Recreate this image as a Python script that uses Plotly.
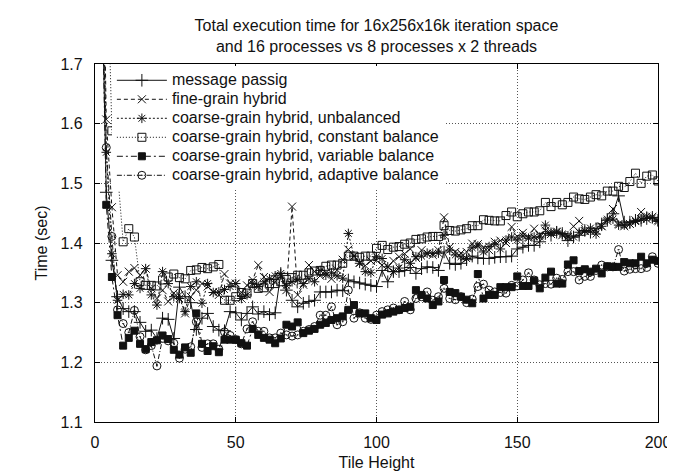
import plotly.graph_objects as go

tile_height = list(range(2, 201, 2))

message_passing = [
    1.95, 1.485, 1.371, 1.310, 1.290, 1.285, 1.285, 1.267, 1.252, 1.254,
    1.240, 1.274, 1.272, 1.240, 1.326, 1.310, 1.300, 1.255, 1.274, 1.282,
    1.260, 1.254, 1.253, 1.285, 1.283, 1.271, 1.282, 1.293, 1.281, 1.285,
    1.280, 1.283, 1.349, 1.321, 1.304, 1.293, 1.299, 1.302, 1.304, 1.318,
    1.318, 1.318, 1.321, 1.320, 1.338, 1.335, 1.333, 1.331, 1.329, 1.327,
    1.354, 1.335, 1.352, 1.352, 1.354, 1.359, 1.349, 1.357, 1.360, 1.359,
    1.354, 1.385, 1.366, 1.364, 1.366, 1.372, 1.378, 1.375, 1.374, 1.374,
    1.376, 1.377, 1.377, 1.378, 1.390, 1.393, 1.396, 1.396, 1.402, 1.416,
    1.413, 1.418, 1.416, 1.404, 1.410, 1.413, 1.421, 1.418, 1.424, 1.432,
    1.438, 1.449, 1.479, 1.435, 1.435, 1.438, 1.438, 1.441, 1.443, 1.438,
]

fine_grain = [
    2.20, 1.607, 1.460, 1.346, 1.335, 1.352, 1.358, 1.346, 1.357, 1.324,
    1.307, 1.321, 1.302, 1.316, 1.313, 1.282, 1.310, 1.321, 1.332, 1.327,
    1.318, 1.313, 1.348, 1.332, 1.332, 1.317, 1.329, 1.338, 1.363, 1.343,
    1.318, 1.335, 1.345, 1.321, 1.461, 1.313, 1.330, 1.363, 1.352, 1.345,
    1.350, 1.340, 1.355, 1.372, 1.389, 1.378, 1.367, 1.362, 1.370, 1.371,
    1.363, 1.360, 1.370, 1.377, 1.382, 1.390, 1.375, 1.388, 1.382, 1.380,
    1.388, 1.443, 1.393, 1.385, 1.383, 1.385, 1.399, 1.398, 1.393, 1.388,
    1.402, 1.404, 1.400, 1.427, 1.411, 1.417, 1.410, 1.424, 1.413, 1.421,
    1.415, 1.418, 1.413, 1.410, 1.428, 1.437, 1.420, 1.420, 1.421, 1.428,
    1.437, 1.457, 1.432, 1.428, 1.432, 1.438, 1.452, 1.440, 1.444, 1.438,
]

unbalanced = [
    2.10, 1.552, 1.382, 1.304, 1.314, 1.313, 1.332, 1.324, 1.357, 1.313,
    1.296, 1.352, 1.332, 1.310, 1.307, 1.285, 1.327, 1.335, 1.299, 1.332,
    1.317, 1.318, 1.322, 1.327, 1.332, 1.307, 1.313, 1.332, 1.327, 1.335,
    1.340, 1.345, 1.349, 1.329, 1.335, 1.338, 1.332, 1.340, 1.335, 1.354,
    1.346, 1.350, 1.345, 1.341, 1.416, 1.378, 1.366, 1.352, 1.350, 1.377,
    1.374, 1.360, 1.352, 1.358, 1.372, 1.366, 1.377, 1.378, 1.383, 1.383,
    1.383, 1.413, 1.388, 1.380, 1.377, 1.374, 1.392, 1.395, 1.385, 1.394,
    1.398, 1.390, 1.405, 1.410, 1.405, 1.412, 1.408, 1.410, 1.410, 1.430,
    1.418, 1.420, 1.415, 1.412, 1.410, 1.418, 1.420, 1.425, 1.415, 1.428,
    1.440, 1.440, 1.430, 1.430, 1.432, 1.436, 1.440, 1.445, 1.442, 1.436,
]

constant_balance = [
    2.40, 1.95, 1.588, 1.519, 1.402, 1.424, 1.410, 1.335, 1.329, 1.329,
    1.328, 1.338, 1.343, 1.348, 1.342, 1.340, 1.354, 1.355, 1.359, 1.357,
    1.360, 1.364, 1.304, 1.304, 1.310, 1.317, 1.316, 1.332, 1.324, 1.325,
    1.332, 1.332, 1.335, 1.339, 1.342, 1.346, 1.346, 1.350, 1.353, 1.354,
    1.361, 1.363, 1.363, 1.366, 1.378, 1.378, 1.376, 1.378, 1.378, 1.391,
    1.396, 1.389, 1.393, 1.394, 1.398, 1.400, 1.406, 1.407, 1.410, 1.411,
    1.411, 1.429, 1.421, 1.420, 1.422, 1.424, 1.429, 1.429, 1.439, 1.438,
    1.437, 1.437, 1.446, 1.452, 1.444, 1.449, 1.452, 1.452, 1.454, 1.468,
    1.461, 1.468, 1.464, 1.468, 1.477, 1.474, 1.473, 1.477, 1.481, 1.479,
    1.487, 1.487, 1.495, 1.493, 1.503, 1.517, 1.500, 1.512, 1.514, 1.504,
]

variable_balance = [
    1.95, 1.464, 1.343, 1.279, 1.228, 1.241, 1.253, 1.231, 1.222, 1.234,
    1.237, 1.245, 1.239, 1.221, 1.213, 1.225, 1.216, 1.282, 1.231, 1.219,
    1.227, 1.217, 1.238, 1.238, 1.238, 1.232, 1.228, 1.256, 1.246, 1.241,
    1.238, 1.232, 1.240, 1.263, 1.260, 1.267, 1.249, 1.253, 1.256, 1.263,
    1.266, 1.271, 1.274, 1.277, 1.288, 1.296, 1.282, 1.282, 1.274, 1.271,
    1.280, 1.282, 1.285, 1.288, 1.291, 1.293, 1.321, 1.313, 1.307, 1.296,
    1.302, 1.338, 1.318, 1.316, 1.310, 1.305, 1.299, 1.348, 1.307, 1.313,
    1.313, 1.326, 1.326, 1.326, 1.344, 1.328, 1.328, 1.337, 1.324, 1.342,
    1.352, 1.332, 1.332, 1.364, 1.371, 1.353, 1.356, 1.352, 1.357, 1.349,
    1.361, 1.360, 1.360, 1.368, 1.366, 1.366, 1.377, 1.366, 1.372, 1.370,
]

adaptive_balance = [
    1.95, 1.560, 1.411, 1.288, 1.265, 1.250, 1.287, 1.243, 1.221, 1.228,
    1.194, 1.240, 1.236, 1.232, 1.207, 1.222, 1.226, 1.268, 1.225, 1.231,
    1.231, 1.222, 1.251, 1.245, 1.238, 1.231, 1.256, 1.268, 1.252, 1.252,
    1.241, 1.241, 1.249, 1.246, 1.244, 1.246, 1.252, 1.255, 1.260, 1.279,
    1.279, 1.293, 1.263, 1.268, 1.321, 1.274, 1.283, 1.274, 1.272, 1.279,
    1.285, 1.288, 1.291, 1.288, 1.302, 1.288, 1.307, 1.310, 1.318, 1.304,
    1.310, 1.324, 1.307, 1.305, 1.310, 1.300, 1.306, 1.327, 1.331, 1.321,
    1.318, 1.317, 1.316, 1.329, 1.328, 1.338, 1.350, 1.338, 1.330, 1.332,
    1.331, 1.341, 1.339, 1.352, 1.352, 1.338, 1.344, 1.344, 1.354, 1.363,
    1.360, 1.360, 1.389, 1.353, 1.356, 1.357, 1.357, 1.359, 1.377, 1.366,
]

series_names = [
    "message passig",
    "fine-grain hybrid",
    "coarse-grain hybrid, unbalanced",
    "coarse-grain hybrid, constant balance",
    "coarse-grain hybrid, variable balance",
    "coarse-grain hybrid, adaptive balance",
]
series_values = [message_passing, fine_grain, unbalanced,
                 constant_balance, variable_balance, adaptive_balance]

x_ticks = [0, 50, 100, 150, 200]
y_ticks = [1.1, 1.2, 1.3, 1.4, 1.5, 1.6, 1.7]

styles = [
    dict(symbol="cross-thin-open", size=9, dash="solid"),
    dict(symbol="x-thin-open", size=8, dash="4px,3px"),
    dict(symbol="asterisk-open", size=8, dash="2px,2px"),
    dict(symbol="square-open", size=8, dash="1px,2px"),
    dict(symbol="square", size=7, dash="6px,3px,2px,3px"),
    dict(symbol="circle-open-dot", size=8, dash="5px,2px,1px,2px"),
]

FONT = "Liberation Sans, Arial, Helvetica, sans-serif"

fig = go.Figure()
for name, vals, st in zip(series_names, series_values, styles):
    fig.add_trace(go.Scatter(
        x=tile_height, y=vals, mode="lines+markers",
        name='<span style="font-size:16px">' + name + '</span>',
        line=dict(color="#111", width=1, dash=st["dash"]),
        marker=dict(symbol=st["symbol"], size=st["size"], color="#111",
                    line=dict(color="#111", width=1)),
        cliponaxis=True,
    ))

axis_common = dict(
    showline=True, linecolor="black", linewidth=1.3, mirror="ticks",
    ticks="inside", ticklen=5, tickcolor="black", tickwidth=1,
    showgrid=True, gridcolor="#555", griddash="1px,2px", gridwidth=1,
    zeroline=False, tickfont=dict(size=16, color="#111", family=FONT),
)

fig.update_xaxes(range=[0, 200], tickvals=x_ticks, ticklabelstandoff=6,
                 title=dict(text="Tile Height", font=dict(size=16, color="#111", family=FONT),
                            standoff=6),
                 **axis_common)
fig.update_yaxes(range=[1.1, 1.7], tickvals=y_ticks, tickformat=".1f",
                 ticklabelstandoff=8,
                 title=dict(text="Time (sec)", font=dict(size=16, color="#111", family=FONT),
                            standoff=8),
                 **axis_common)

fig.update_layout(
    width=675, height=473,
    margin=dict(l=87, r=19, t=56, b=57),
    paper_bgcolor="white", plot_bgcolor="white",
    font=dict(family=FONT, size=16, color="#111"),
    title=dict(text="Total execution time for 16x256x16k iteration space<br>and 16 processes vs 8 processes x 2 threads",
               x=0.5, xref="paper", xanchor="center", y=0.952, yanchor="top",
               font=dict(size=16, family=FONT, color="#111")),
    legend=dict(x=0.03, y=0.995, xanchor="left", yanchor="top",
                bgcolor="white", borderwidth=0,
                font=dict(size=12, family=FONT, color="#111"),
                itemwidth=50, tracegroupgap=0,
                entrywidth=380, entrywidthmode="pixels"),
    showlegend=True,
)

fig.write_html("out.html")
